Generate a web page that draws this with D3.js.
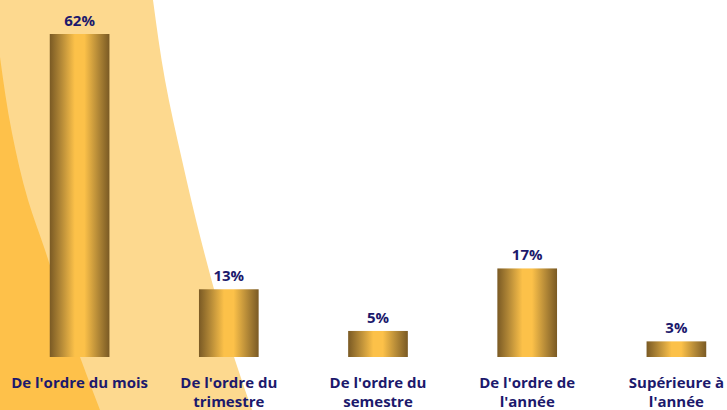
<!DOCTYPE html>
<html><head><meta charset="utf-8">
<script src="https://cdn.jsdelivr.net/npm/d3@7"></script>
<style>
html,body{margin:0;padding:0;background:#fff;overflow:hidden}
svg{display:block}
text{font-family:"Open Sans","Noto Sans",sans-serif;font-weight:700;fill:#1c196c}
</style></head>
<body>
<svg id="chart" width="727" height="410"></svg>
<script>
const categories = ["De l'ordre du mois","De l'ordre du trimestre","De l'ordre du semestre","De l'ordre de l'année","Supérieure à l'année"];
const values = [62,13,5,17,3];
const valueLabels = ["62%","13%","5%","17%","3%"];

const W=727,H=410;
const svg=d3.select("#chart");

// background decorative shapes
const bg=svg.append("g");
const line=d3.line().curve(d3.curveMonotoneY);
const lightPts=[[153,0],[165,80],[182,160],[201,240],[235,360],[252,410]];
bg.append("path").attr("fill","#fdd98f")
  .attr("d","M0,0 L"+line(lightPts).slice(1)+" L0,410 Z");
const darkPts=[[0,57],[12,133],[28,200],[45,250],[80,357],[100,410]];
bg.append("path").attr("fill","#fec14a")
  .attr("d",line(darkPts)+" L0,410 Z");

// gradient
const defs=svg.append("defs");
const grad=defs.append("linearGradient").attr("id","barGrad").attr("x1","0").attr("x2","1").attr("y1","0").attr("y2","0");
[[0,"#7a5a24"],[0.18,"#b08636"],[0.42,"#fcc149"],[0.58,"#fcc149"],[0.82,"#b08636"],[1,"#7a5a24"]]
  .forEach(([o,c])=>grad.append("stop").attr("offset",o).attr("stop-color",c));

const x=d3.scaleBand().domain(categories).range([5,751]).paddingInner(0.6).paddingOuter(0.3);
const y=d3.scaleLinear().domain([0,62]).range([357,34]);

svg.append("g").selectAll("rect").data(values).join("rect")
  .attr("x",(d,i)=>x(categories[i]))
  .attr("width",x.bandwidth())
  .attr("y",d=>y(d))
  .attr("height",d=>y(0)-y(d))
  .attr("fill","url(#barGrad)");

svg.append("g").selectAll("text").data(values).join("text")
  .attr("x",(d,i)=>x(categories[i])+x.bandwidth()/2)
  .attr("y",d=>y(d)-8)
  .attr("text-anchor","middle")
  .style("font-size","15px")
  .text((d,i)=>valueLabels[i]);

// category axis labels
const axis=d3.axisBottom(x).tickSize(0).tickPadding(0);
const ag=svg.append("g").attr("transform","translate(0,"+y(0)+")").call(axis);
ag.select(".domain").remove();
ag.selectAll(".tick text").attr("y",0).attr("dy",null)
  .style("font-size","15px")
  .each(function(t){
    const el=d3.select(this);
    const words=t.split(" ");
    el.text(null);
    let lines=[],cur=[];
    const tmp=el.append("tspan");
    words.forEach(w=>{
      const test=cur.concat([w]).join(" ");
      tmp.text(test);
      if(tmp.node().getComputedTextLength()>146 && cur.length){lines.push(cur.join(" "));cur=[w];}
      else cur.push(w);
    });
    lines.push(cur.join(" "));
    tmp.remove();
    lines.forEach((l,i)=>el.append("tspan").attr("x",0).attr("y",31+i*19).text(l));
  });
</script>
</body></html>
